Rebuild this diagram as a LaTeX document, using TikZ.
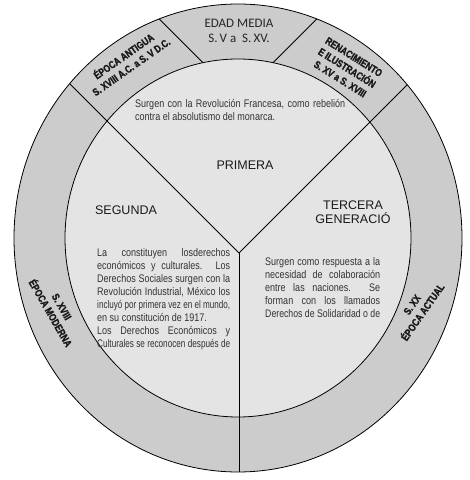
\documentclass[tikz,border=0pt]{standalone}
\usepackage{fontspec}
\usepackage{graphicx}
\newfontfamily\headfont{Liberation Sans}
\newfontfamily\bodyfont[FakeStretch=0.82]{Liberation Sans}
\newfontfamily\ringfont[FakeStretch=0.8,FakeBold=1.5]{Liberation Sans Bold}
\newfontfamily\erafont{Carlito}
\definecolor{ringgray}{HTML}{CCCCCC}
\definecolor{coregray}{HTML}{E4E4E4}
\definecolor{inktext}{HTML}{333333}
\newlength\natw
\newcommand\jl[2]{\settowidth\natw{#2}\ifdim\natw>#1\resizebox{#1}{\height}{#2}\else\makebox[#1][s]{#2}\fi}

\begin{document}
\begin{tikzpicture}[x=1pt,y=1pt]
\tikzstyle{every node}+=[inner sep=0pt]
\tikzstyle{edge}=[black, line width=0.8pt]
\tikzstyle{era}=[font={\ringfont\fontsize{10.5}{13}\selectfont}, text=black!90, align=center]
\tikzstyle{body}=[font={\bodyfont\fontsize{11}{13}\selectfont}, text=inktext, align=left, anchor=north west]
\tikzstyle{title}=[font={\headfont\fontsize{12.5}{14}\selectfont}, text=black!90, align=center]
\useasboundingbox (0,0) rectangle (470,480);
\fill [white] (0,0) rectangle (470,480);
\draw [edge, fill=ringgray] (238,242) ellipse [x radius=224, y radius=234];
\draw [edge, fill=coregray] (238,242) ellipse [x radius=173, y radius=179];
\coordinate (hub) at (239,227);
\begin{scope}
\clip (238,242) ellipse [x radius=224, y radius=234];
\draw [edge] (hub) -- ++(-220,220);
\draw [edge] (hub) -- ++(220,220);
\draw [edge] (hub) -- (239,0);
\end{scope}
\draw [edge] (203,417.3) -- (159.2,461.1);
\draw [edge] (273,417.3) -- (316.8,461.1);
\node (media) [font={\erafont\fontsize{13}{14.5}\selectfont}, text=black!85, align=center] at (239,449) {EDAD MEDIA\\S.\,V a~~S.\,XV.};
\node (antigua) [era, rotate=35] at (127,419) {ÉPOCA ANTIGUA\\S. XVIII A.C. a S. V D.C.};
\node (renace) [era, rotate=-32] at (347,412) {RENACIMIENTO\\E ILUSTRACIÓN\\S. XV a S. XVIII};
\node (moderna) [era, rotate=-60] at (56,170) {S. XVIII\\ÉPOCA MODERNA};
\node (actual) [era, rotate=55] at (417.5,171.5) {S. XX\\ÉPOCA ACTUAL};
\node (primera) [title] at (245,315) {PRIMERA};
\node (segunda) [title] at (126,270) {SEGUNDA};
\node (tercera) [title] at (353,268) {TERCERA\\GENERACIÓ};
\node (primtext) [body] at (135,381) {\jl{210pt}{Surgen con la Revolución Francesa, como rebelión}\\contra el absolutismo del monarca.};
\node (segtext) [body] at (97,232) {\jl{133pt}{La constituyen losderechos}\\
\jl{133pt}{económicos y culturales. Los}\\
\jl{133pt}{Derechos Sociales surgen con la}\\
\jl{133pt}{Revolución Industrial, México los}\\
\jl{133pt}{incluyó por primera vez en el mundo,}\\
en su constitución de 1917.\\
\jl{133pt}{Los Derechos Económicos y}\\
\jl{133pt}{Culturales se reconocen después de}};
\node (tertext) [body] at (265,223) {\jl{115pt}{Surgen como respuesta a la}\\
\jl{115pt}{necesidad de colaboración}\\
\jl{115pt}{entre las naciones. Se}\\
\jl{115pt}{forman con los llamados}\\
\jl{115pt}{Derechos de Solidaridad o de}};
\end{tikzpicture}
\end{document}
